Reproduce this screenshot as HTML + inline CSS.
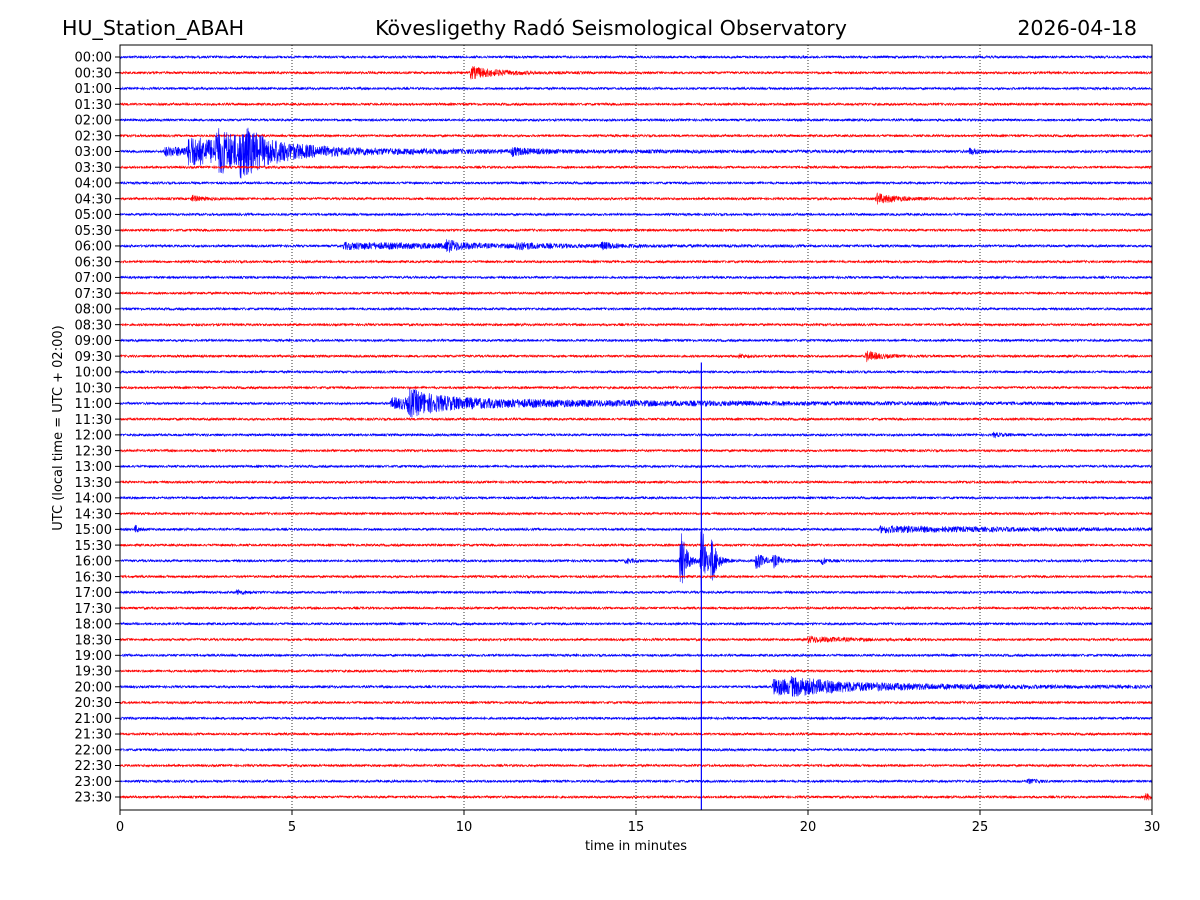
<!DOCTYPE html>
<html><head><meta charset="utf-8"><style>
body{margin:0;background:#fff;}
svg{display:block;font-family:"DejaVu Sans","Liberation Sans",sans-serif;}
</style></head><body>
<svg id="chart" width="1200" height="900" viewBox="0 0 1200 900">
<rect width="1200" height="900" fill="#fff"/>
<text x="62" y="35" font-size="20.6">HU_Station_ABAH</text>
<text x="611" y="35" font-size="20.6" text-anchor="middle">Kövesligethy Radó Seismological Observatory</text>
<text x="1137" y="35" font-size="20.6" text-anchor="end">2026-04-18</text>
<g id="grid"></g>
<g id="traces"></g>
<g id="axes"></g>
<rect x="120" y="45" width="1032" height="765" fill="none" stroke="#000" stroke-width="1"/>
<text x="636" y="850" font-size="13" text-anchor="middle">time in minutes</text>
<text transform="translate(62,428) rotate(-90)" font-size="13" text-anchor="middle">UTC (local time = UTC + 02:00)</text>
</svg>
<script>
// ---- data ----
const xTicks = [0, 5, 10, 15, 20, 25, 30];
const traceLabels = [];
for (let h = 0; h < 24; h++) { const hh = String(h).padStart(2,'0'); traceLabels.push(hh+':00', hh+':30'); }
// events: trace index, onset minute, peak amplitude (px), decay (minutes)
const eventTrace = [1, 6, 6, 6, 6, 6, 6, 9, 9, 12, 12, 12, 12, 19, 19, 22, 22, 24, 30, 30, 32, 32, 32, 32, 32, 32, 32, 34, 37, 40, 40, 46, 47];
const eventOnset = [10.2, 1.3, 2.0, 2.8, 3.5, 11.4, 24.7, 2.1, 22.0, 6.5, 9.5, 11.5, 14.0, 18.0, 21.7, 7.9, 8.4, 25.4, 0.45, 22.1, 14.7, 16.3, 16.9, 17.2, 18.5, 19.0, 20.4, 3.4, 20.0, 19.0, 19.5, 26.4, 29.8];
const eventAmp   = [6, 4, 12, 14, 14, 3, 3, 3, 5, 3, 5, 3, 3, 2, 5, 5, 10, 2, 4, 3, 2, 34, 44, 22, 10, 6, 4, 2, 3, 9, 4, 2, 3];
const eventDecay = [0.8, 8, 1.5, 1.0, 0.8, 0.5, 0.3, 0.3, 0.6, 5, 0.4, 0.6, 0.4, 0.2, 0.4, 8, 0.8, 0.3, 0.1, 4, 0.3, 0.15, 0.12, 0.15, 0.2, 0.2, 0.15, 0.3, 1.0, 1.2, 5, 0.3, 0.4];
const bigSpikeMinute = 16.9; // vertical streak through lower traces
const bigSpikeTop = 19.4;    // in trace units (trace index)
// ---- scales ----
const X0 = 120, X1 = 1152, Y0 = 57, DY = (797-57)/47;
const xs = m => X0 + (m/30)*(X1-X0);
const ys = i => Y0 + i*DY;
const NS = 'http://www.w3.org/2000/svg';
const grid = document.getElementById('grid'), axes = document.getElementById('axes'), tr = document.getElementById('traces');
xTicks.forEach(t => {
  const x = xs(t);
  if (t > 0 && t < 30) {
    const l = document.createElementNS(NS,'line');
    
    
    l.setAttribute('x1',x);l.setAttribute('x2',x);l.setAttribute('y1',45);l.setAttribute('y2',810);
    l.setAttribute('stroke','#000');l.setAttribute('stroke-width','0.8');l.setAttribute('stroke-dasharray','1,2');
    grid.appendChild(l);
  }
  const tk = document.createElementNS(NS,'line');
  
  
  tk.setAttribute('x1',x);tk.setAttribute('x2',x);tk.setAttribute('y1',810);tk.setAttribute('y2',815);tk.setAttribute('stroke','#000');
  axes.appendChild(tk);
  const tx = document.createElementNS(NS,'text');
  
  
  tx.setAttribute('x',x);tx.setAttribute('y',831);tx.setAttribute('font-size','13');tx.setAttribute('text-anchor','middle');
  tx.textContent = t; axes.appendChild(tx);
});
// deterministic texture generator for background noise
let seed = 12345;
function rnd(){ seed = (seed*1103515245 + 12345) & 0x7fffffff; return seed/0x7fffffff - 0.5; }
traceLabels.forEach((lab, i) => {
  const y = ys(i);
  const tk = document.createElementNS(NS,'line');
  
  
  tk.setAttribute('x1',115);tk.setAttribute('x2',120);tk.setAttribute('y1',y);tk.setAttribute('y2',y);tk.setAttribute('stroke','#000');
  axes.appendChild(tk);
  const tx = document.createElementNS(NS,'text');
  
  
  tx.setAttribute('x',112);tx.setAttribute('y',y+4.7);tx.setAttribute('font-size','13');tx.setAttribute('text-anchor','end');
  tx.textContent = lab; axes.appendChild(tx);
  const evs = [];
  eventTrace.forEach((t,k)=>{ if(t===i) evs.push(k); });
  let d = '';
  const N = 4128;
  for (let p = 0; p <= N; p++) {
    const m = p/N*30;
    let a = 1.2;
    evs.forEach(k => {
      const dt = m - eventOnset[k];
      if (dt > -0.05) {
        const rise = dt < 0 ? (dt+0.05)/0.05 : 1;
        a += eventAmp[k]*rise*Math.exp(-Math.max(dt,0)/eventDecay[k]);
      }
    });
    const v = rnd()*2*a;
    d += (p?'L':'M') + xs(m).toFixed(1) + ',' + (y+v).toFixed(1);
  }
  const path = document.createElementNS(NS,'path');
  
  
  path.setAttribute('d', d);
  path.setAttribute('fill','none');
  path.setAttribute('stroke', i%2 ? '#f00' : '#00f');
  path.setAttribute('stroke-width','0.6');
  tr.appendChild(path);
});
const sp = document.createElementNS(NS,'line');


sp.setAttribute('x1',xs(bigSpikeMinute));sp.setAttribute('x2',xs(bigSpikeMinute));
sp.setAttribute('y1',ys(bigSpikeTop));sp.setAttribute('y2',810);
sp.setAttribute('stroke','#00f');sp.setAttribute('stroke-width','1.2');
tr.appendChild(sp);
</script>
</body></html>
